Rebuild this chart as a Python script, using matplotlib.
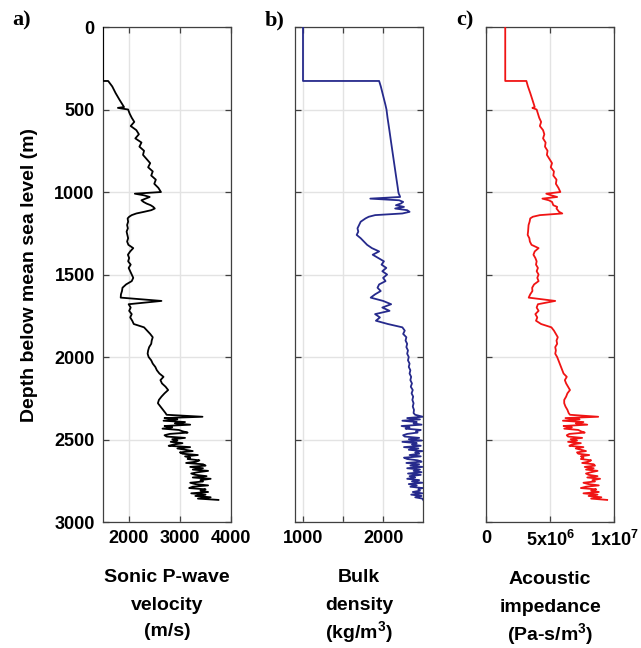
import matplotlib.pyplot as plt

plt.rcParams['font.family'] = 'Liberation Sans'
plt.rcParams['font.weight'] = 'bold'
plt.rcParams['mathtext.fontset'] = 'custom'
plt.rcParams['mathtext.rm'] = 'Liberation Sans:bold'
plt.rcParams['mathtext.it'] = 'Liberation Sans:bold'
plt.rcParams['mathtext.bf'] = 'Liberation Sans:bold'

# depth below mean sea level (m), shared by the three logs
depth = [
    0, 327, 327, 360, 400, 440, 470, 485, 490, 500,
    525, 550, 575, 600, 625, 650, 675, 700, 725, 750,
    775, 800, 825, 850, 875, 900, 925, 950, 975, 1000,
    1010, 1020, 1030, 1040, 1050, 1060, 1070, 1080, 1090, 1100,
    1110, 1120, 1130, 1140, 1150, 1160,
    1180, 1200, 1220, 1240, 1260, 1280, 1300, 1320, 1340, 1360,
    1380, 1400, 1420, 1440, 1460, 1480, 1500, 1520, 1540, 1560,
    1580, 1600, 1620, 1640, 1660, 1680, 1700, 1720, 1740, 1760,
    1780, 1800, 1820, 1840, 1860, 1880, 1900, 1920, 1940, 1960,
    1980, 2000, 2020, 2040, 2060, 2080, 2100, 2120, 2140, 2160,
    2180, 2200, 2220, 2240, 2260, 2280, 2300, 2320, 2340,
    2350, 2362, 2370, 2378, 2386, 2394, 2402, 2410, 2418, 2426,
    2434, 2442, 2450, 2458, 2466, 2474, 2482, 2490, 2498, 2506,
    2514, 2522, 2530, 2538, 2546, 2554, 2562, 2570, 2578, 2586,
    2594, 2602, 2610, 2618, 2626, 2634, 2642, 2650, 2658, 2666,
    2674, 2682, 2690, 2698, 2706, 2714, 2722, 2730, 2738, 2746,
    2754, 2762, 2770, 2778, 2786, 2794, 2802, 2810, 2818, 2826,
    2834, 2842, 2850, 2858, 2866,
]

# sonic P-wave velocity (m/s)
velocity = [
    1500, 1500, 1600, 1680, 1745, 1820, 1880, 1910, 1790, 1990,
    2020, 2060, 2110, 2040, 2150, 2200, 2130, 2250, 2210, 2300,
    2280, 2350, 2420, 2380, 2470, 2440, 2530, 2500, 2580, 2630,
    2120, 2300, 2410, 2330, 2250, 2290, 2350, 2430, 2480, 2510,
    2440, 2300, 2150, 2060, 2010, 1980,
    1990, 1970, 1985, 1960, 1975, 1990, 1970, 1995, 2090, 2030,
    1985, 2010, 1990, 2040, 2000, 2030, 2060, 2090, 2060, 1950,
    1880, 1870, 1850, 1845, 2640, 2000, 2040, 2010, 2060, 2030,
    2070, 2100, 2300, 2360, 2420, 2470, 2450, 2440, 2400, 2380,
    2370, 2390, 2440, 2470, 2520, 2550, 2600, 2680, 2620, 2650,
    2720, 2770, 2700, 2640, 2590, 2570, 2620, 2670, 2720,
    2740, 3440, 2700, 2950, 2680, 3100, 2900, 3200, 2700, 2850,
    2660, 2980, 3050, 3150, 2800, 2700, 2740, 3100, 2850, 2950,
    2820, 3050, 2880, 2780, 3200, 2950, 3100, 3250, 3000, 3050,
    3350, 3100, 3200, 3150, 3380, 3320, 3120, 3450, 3500, 3200,
    3450, 3250, 3550, 3350, 3220, 3300, 3520, 3250, 3600, 3400,
    3450, 3200, 3300, 3550, 3250, 3180, 3500, 3400, 3550, 3220,
    3500, 3300, 3600, 3350, 3750,
]

# bulk density (kg/m^3)
density = [
    1000, 1000, 1950, 1971, 1992, 2013, 2028, 2035, 2038, 2042,
    2048, 2055, 2063, 2070, 2078, 2085, 2092, 2100, 2108, 2115,
    2122, 2130, 2138, 2145, 2152, 2160, 2168, 2175, 2183, 2190,
    2195, 2205, 2212, 1840, 2200, 2250, 2220, 2160, 2260, 2150,
    2300, 2330, 2240, 1900, 1820, 1780,
    1720, 1700, 1680, 1690, 1670, 1720, 1760, 1800, 1860, 1950,
    1870, 1940, 2010, 1980, 2040, 1990, 2050, 2000, 2030, 1950,
    1930, 1970, 1900, 1845, 2000, 2100, 1990, 2080, 1900, 1960,
    1910, 2060, 2240, 2270, 2250, 2290, 2280, 2300, 2290, 2310,
    2300, 2320, 2310, 2330, 2320, 2340, 2330, 2350, 2340, 2360,
    2345, 2370, 2355, 2375, 2365, 2380, 2370, 2385, 2380,
    2400, 2495, 2300, 2460, 2240, 2420, 2380, 2480, 2230, 2330,
    2280, 2470, 2410, 2430, 2300, 2250, 2270, 2450, 2320, 2480,
    2240, 2420, 2360, 2470, 2260, 2440, 2320, 2490, 2400, 2450,
    2330, 2470, 2260, 2300, 2430, 2480, 2290, 2450, 2340, 2490,
    2300, 2460, 2380, 2480, 2310, 2470, 2330, 2400, 2300, 2450,
    2360, 2490, 2320, 2420, 2340, 2490, 2440, 2460, 2370, 2490,
    2350, 2480, 2400, 2490, 2500,
]

# acoustic impedance (10^6 Pa-s/m^3)
impedance = [
    1.5, 1.5, 3.15, 3.27, 3.45, 3.62, 3.74, 3.80, 3.62, 3.95,
    4.05, 4.15, 4.30, 4.20, 4.45, 4.55, 4.45, 4.65, 4.60, 4.80,
    4.75, 4.95, 5.15, 5.05, 5.30, 5.25, 5.50, 5.45, 5.65, 5.80,
    4.70, 5.10, 5.55, 4.40, 4.90, 5.15, 5.20, 5.25, 5.55, 5.50,
    5.60, 5.70, 5.95, 4.20, 3.65, 3.45,
    3.40, 3.32, 3.30, 3.28, 3.25, 3.38, 3.42, 3.55, 4.10, 3.80,
    3.70, 3.85, 3.95, 3.90, 4.05, 3.95, 4.10, 4.00, 4.10, 3.75,
    3.60, 3.62, 3.45, 3.33, 5.40, 4.05, 3.95, 4.10, 3.85, 4.00,
    3.90, 4.30, 5.10, 5.30, 5.45, 5.60, 5.50, 5.55, 5.40, 5.45,
    5.40, 5.55, 5.65, 5.75, 5.85, 5.95, 6.05, 6.30, 6.15, 6.25,
    6.40, 6.55, 6.35, 6.25, 6.10, 6.10, 6.20, 6.35, 6.45,
    6.55, 8.75, 6.20, 7.30, 6.00, 7.60, 7.00, 7.90, 6.05, 6.70,
    6.10, 7.20, 7.40, 7.70, 6.50, 6.30, 6.40, 7.50, 6.60, 7.10,
    6.40, 7.40, 6.70, 6.50, 7.60, 7.00, 7.40, 7.80, 7.10, 7.20,
    8.05, 7.40, 7.60, 7.40, 8.20, 8.00, 7.50, 8.40, 8.50, 7.70,
    8.40, 7.80, 8.70, 8.20, 7.80, 8.00, 8.70, 7.90, 8.90, 8.30,
    8.50, 7.60, 8.00, 8.80, 7.80, 7.40, 8.60, 8.20, 8.80, 7.60,
    8.70, 8.00, 9.00, 8.20, 9.45,
]

depth_ticks = [0, 500, 1000, 1500, 2000, 2500, 3000]
vel_ticks = [2000, 3000, 4000]
vel_labels = ['2000', '3000', '4000']
rho_ticks = [1000, 1500, 2000]
rho_labels = ['1000', '', '2000']
ai_ticks = [0, 5, 10]
ai_labels = ['0', r'5x10$^{6}$', r'1x10$^{7}$']

fig = plt.figure(figsize=(6.41, 6.48), dpi=100)

panels = [
    (0.1607, velocity, 'black', (1500, 4000), vel_ticks, vel_labels,
     ['Sonic P-wave', 'velocity', '(m/s)'], 0.0, 'a)', 0.019),
    (0.4602, density, '#262a8c', (900, 2500), rho_ticks, rho_labels,
     ['Bulk', 'density', '(kg/m$^{3}$)'], 0.0, 'b)', 0.413),
    (0.7582, impedance, '#f01414', (0, 10), ai_ticks, ai_labels,
     ['Acoustic', 'impedance', '(Pa-s/m$^{3}$)'], 2.0, 'c)', 0.711),
]

for i, (left, vals, col, xlim, xt, xtl, xlab, shift, tag, tagx) in enumerate(panels):
    ax = fig.add_axes([left, 0.1944, 0.2, 0.7639])
    ax.plot(vals, depth, color=col, lw=1.3, zorder=3)
    ax.set_xlim(*xlim)
    ax.set_ylim(3000, 0)
    ax.set_xticks(xt)
    ax.set_xticklabels(xtl)
    ax.set_yticks(depth_ticks)
    if i > 0:
        ax.set_yticklabels([])
    ax.grid(True, color='#e3e3e3', lw=1.0, zorder=0)
    ax.tick_params(direction='in', length=4, width=0.9, top=True, right=True,
                   color='#404040', labelsize=13, pad=6)
    for sp in ax.spines.values():
        sp.set_color('#404040')
        sp.set_linewidth(0.9)
    # x label lines, evenly spaced like the original
    xc = left + 0.1
    for k, line in enumerate(xlab):
        ypix = 578 + shift + 27 * k
        fig.text(xc, 1 - ypix / 648, line, ha='center', va='center',
                 fontsize=14, fontweight='bold')
    if i == 0:
        ax.set_ylabel('Depth below mean sea level (m)', fontsize=14,
                      fontweight='bold', labelpad=12)
    fig.text(tagx, 0.968, tag, family='Liberation Serif', fontsize=16,
             weight='bold', va='center')

fig.savefig('out.png', dpi=100)
